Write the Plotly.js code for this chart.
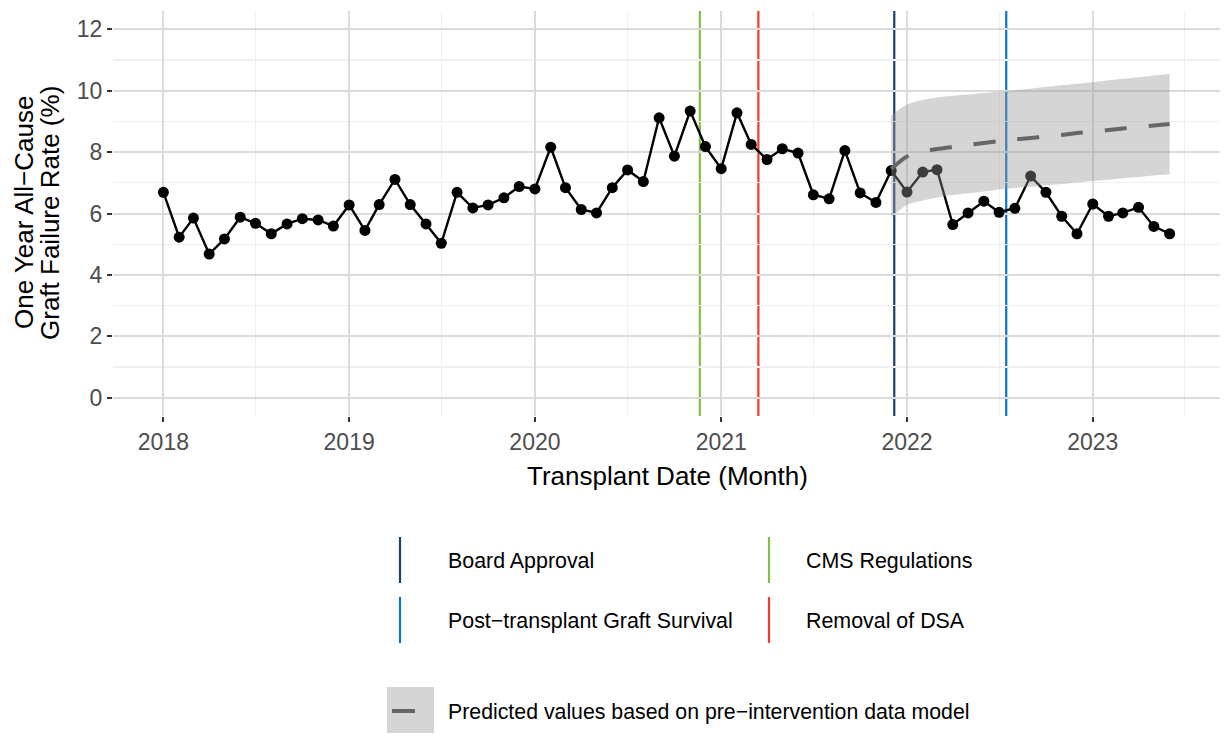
<!DOCTYPE html>
<html>
<head>
<meta charset="utf-8">
<script src="https://cdn.plot.ly/plotly-3.0.1.min.js"></script>
<style>
  html, body { margin: 0; padding: 0; background: #ffffff; }
  #chart { width: 1225px; height: 734px; }
</style>
</head>
<body>
<div id="chart"></div>
<script>
// ---------------- DATA ----------------
const months = [
  '2018-01-01','2018-02-01','2018-03-01','2018-04-01','2018-05-01','2018-06-01','2018-07-01','2018-08-01','2018-09-01','2018-10-01','2018-11-01','2018-12-01',
  '2019-01-01','2019-02-01','2019-03-01','2019-04-01','2019-05-01','2019-06-01','2019-07-01','2019-08-01','2019-09-01','2019-10-01','2019-11-01','2019-12-01',
  '2020-01-01','2020-02-01','2020-03-01','2020-04-01','2020-05-01','2020-06-01','2020-07-01','2020-08-01','2020-09-01','2020-10-01','2020-11-01','2020-12-01',
  '2021-01-01','2021-02-01','2021-03-01','2021-04-01','2021-05-01','2021-06-01','2021-07-01','2021-08-01','2021-09-01','2021-10-01','2021-11-01','2021-12-01',
  '2022-01-01','2022-02-01','2022-03-01','2022-04-01','2022-05-01','2022-06-01','2022-07-01','2022-08-01','2022-09-01','2022-10-01','2022-11-01','2022-12-01',
  '2023-01-01','2023-02-01','2023-03-01','2023-04-01','2023-05-01','2023-06-01'
];
const failureRate = [
  6.69, 5.23, 5.85, 4.68, 5.17, 5.88, 5.68, 5.34, 5.66, 5.83, 5.79, 5.59,
  6.28, 5.45, 6.29, 7.11, 6.29, 5.66, 5.03, 6.69, 6.18, 6.28, 6.51, 6.88,
  6.80, 8.16, 6.84, 6.13, 6.02, 6.84, 7.42, 7.04, 9.12, 7.87, 9.34, 8.18,
  7.46, 9.28, 8.25, 7.76, 8.11, 7.97, 6.61, 6.48, 8.05, 6.67, 6.36, 7.40,
  6.70, 7.35, 7.43, 5.64, 6.02, 6.40, 6.04, 6.17, 7.22, 6.69, 5.91, 5.34,
  6.31, 5.91, 6.02, 6.20, 5.58, 5.34
];
const predMonths = [
  '2021-12-01','2022-01-01','2022-02-01','2022-03-01','2022-04-01','2022-05-01','2022-06-01','2022-07-01','2022-08-01','2022-09-01',
  '2022-10-01','2022-11-01','2022-12-01','2023-01-01','2023-02-01','2023-03-01','2023-04-01','2023-05-01','2023-06-01'
];
const predicted = [7.45, 7.86, 8.01, 8.10, 8.17, 8.23, 8.30, 8.36, 8.41, 8.46, 8.51, 8.56, 8.62, 8.67, 8.72, 8.77, 8.82, 8.87, 8.92];
const predUpper = [9.20, 9.55, 9.70, 9.78, 9.84, 9.88, 9.93, 9.97, 10.02, 10.07, 10.13, 10.18, 10.23, 10.28, 10.34, 10.39, 10.44, 10.50, 10.55];
const predLower = [5.88, 6.28, 6.42, 6.52, 6.60, 6.66, 6.72, 6.78, 6.83, 6.87, 6.92, 6.96, 7.01, 7.06, 7.10, 7.15, 7.19, 7.24, 7.28];

const eventNames  = ['CMS Regulations', 'Removal of DSA', 'Board Approval', 'Post\u2212transplant Graft Survival'];
const eventDates  = ['2020-11-20', '2021-03-15', '2021-12-07', '2022-07-15'];
const eventColors = ['#7DC242', '#EE3B2C', '#1A3E70', '#0B74C4'];

const predLabel = 'Predicted values based on pre\u2212intervention data model';
const xTitle = 'Transplant Date (Month)';
const yTitleLines = ['One Year All\u2212Cause', 'Graft Failure Rate (%)'];

// ---------------- LAYOUT HELPERS ----------------
const W = 1225, H = 734;
const M = { l: 113, r: 5, t: 11, b: 318 };
const PW = W - M.l - M.r, PH = H - M.t - M.b;
const px = v => (v - M.l) / PW;           // pixel x -> paper x
const py = v => (H - M.b - v) / PH;       // pixel y -> paper y
const FONT = 'Liberation Sans, Arial, Helvetica, sans-serif';

// ---------------- TRACES ----------------
const traces = [
  {
    x: months, y: failureRate, type: 'scatter', mode: 'lines+markers',
    line: { color: '#000000', width: 2.4 },
    marker: { color: '#000000', size: 11 },
    showlegend: false, hoverinfo: 'x+y'
  },
  {
    x: predMonths, y: predLower, type: 'scatter', mode: 'lines',
    line: { width: 0, shape: 'spline', smoothing: 0.8 },
    showlegend: false, hoverinfo: 'skip'
  },
  {
    x: predMonths, y: predUpper, type: 'scatter', mode: 'lines',
    line: { width: 0, shape: 'spline', smoothing: 0.8 },
    fill: 'tonexty', fillcolor: 'rgba(150,150,150,0.40)',
    showlegend: false, hoverinfo: 'skip'
  },
  {
    x: predMonths, y: predicted, type: 'scatter', mode: 'lines',
    line: { color: '#666666', width: 4, dash: '22px,22px', shape: 'spline', smoothing: 0.8 },
    showlegend: false, hoverinfo: 'x+y'
  }
];

// ---------------- SHAPES / ANNOTATIONS ----------------
const shapes = [];
const annotations = [];

// event lines in the plot
eventDates.forEach((d, i) => {
  shapes.push({
    type: 'line', xref: 'x', yref: 'paper', x0: d, x1: d, y0: 0, y1: 1,
    line: { color: eventColors[i], width: 2.2 }, layer: 'below'
  });
});

// legend 1 (event lines), ggplot-like 2-column layout
const legendOrder = [2, 0, 3, 1]; // Board Approval, CMS, Post-transplant, Removal
const legCols = [{ key: 400, text: 447 }, { key: 769, text: 805 }];
const legRows = [{ top: 537, bot: 583, mid: 561 }, { top: 597, bot: 643, mid: 621 }];
legendOrder.forEach((ev, k) => {
  const c = legCols[k % 2], r = legRows[Math.floor(k / 2)];
  shapes.push({
    type: 'line', xref: 'paper', yref: 'paper',
    x0: px(c.key), x1: px(c.key), y0: py(r.top), y1: py(r.bot),
    line: { color: eventColors[ev], width: 2.2 }
  });
  annotations.push({
    xref: 'paper', yref: 'paper', x: px(c.text), y: py(r.mid),
    xanchor: 'left', yanchor: 'middle', showarrow: false, borderpad: 0,
    text: eventNames[ev], font: { family: FONT, size: 21.4, color: '#000000' }
  });
});

// legend 2 (prediction)
shapes.push({
  type: 'rect', xref: 'paper', yref: 'paper',
  x0: px(387), x1: px(434), y0: py(687), y1: py(733),
  fillcolor: 'rgba(150,150,150,0.40)', line: { width: 0 }
});
shapes.push({
  type: 'line', xref: 'paper', yref: 'paper',
  x0: px(392), x1: px(415), y0: py(711), y1: py(711),
  line: { color: '#666666', width: 4 }
});
annotations.push({
  xref: 'paper', yref: 'paper', x: px(447), y: py(712),
  xanchor: 'left', yanchor: 'middle', showarrow: false, borderpad: 0,
  text: predLabel, font: { family: FONT, size: 21.3, color: '#000000' }
});

// axis titles
annotations.push({
  xref: 'paper', yref: 'paper', x: px(667), y: py(476),
  xanchor: 'center', yanchor: 'middle', showarrow: false, borderpad: 0,
  text: xTitle, font: { family: FONT, size: 26, color: '#000000' }
});
[24, 50].forEach((xp, i) => {
  annotations.push({
    xref: 'paper', yref: 'paper', x: px(xp), y: py(213),
    xanchor: 'center', yanchor: 'middle', showarrow: false, borderpad: 0, textangle: -90,
    text: yTitleLines[i], font: { family: FONT, size: 26, color: '#000000' }
  });
});

const layout = {
  width: W, height: H,
  margin: M,
  paper_bgcolor: '#ffffff', plot_bgcolor: '#ffffff',
  font: { family: FONT, color: '#4D4D4D' },
  showlegend: false,
  xaxis: {
    type: 'date',
    range: ['2017-09-24', '2023-09-08'],
    tick0: '2018-01-01', dtick: 'M12', tickformat: '%Y',
    showgrid: true, gridcolor: '#DBDBDB', gridwidth: 2,
    minor: { dtick: 'M6', tick0: '2018-01-01', showgrid: true, gridcolor: '#F0F0F0', gridwidth: 1.2 },
    ticks: 'outside', ticklen: 5, tickwidth: 2, tickcolor: '#333333',
    tickfont: { family: FONT, size: 23, color: '#4D4D4D' },
    showline: false, zeroline: false, fixedrange: true
  },
  yaxis: {
    range: [-0.6, 12.6],
    tick0: 0, dtick: 2,
    showgrid: true, gridcolor: '#DBDBDB', gridwidth: 2,
    minor: { dtick: 1, tick0: 0, showgrid: true, gridcolor: '#F0F0F0', gridwidth: 1.2 },
    ticks: 'outside', ticklen: 5, tickwidth: 2, tickcolor: '#333333',
    tickfont: { family: FONT, size: 23, color: '#4D4D4D' },
    showline: false, zeroline: false, fixedrange: true
  },
  shapes: shapes,
  annotations: annotations
};

Plotly.newPlot('chart', traces, layout, { displayModeBar: false, staticPlot: true });
</script>
</body>
</html>
